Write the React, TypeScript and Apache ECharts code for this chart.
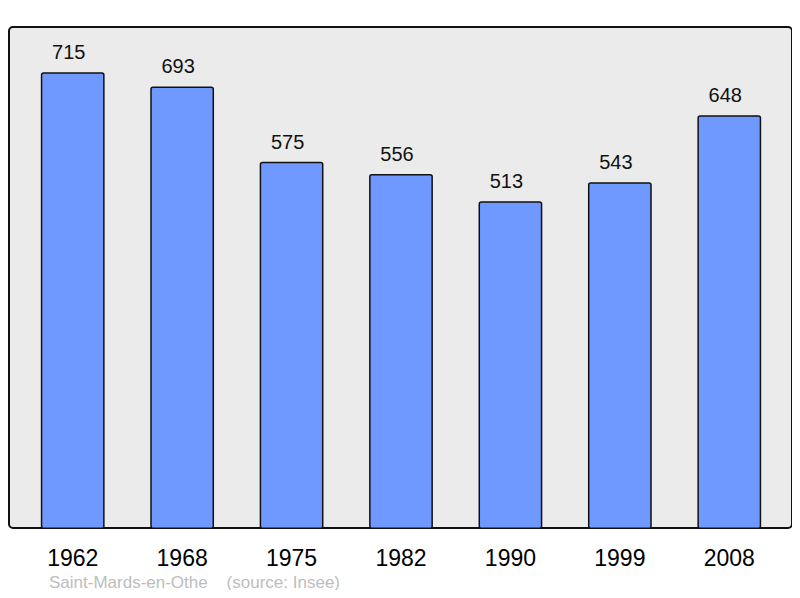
import React, { useEffect, useRef } from "react";
import * as echarts from "echarts";

const years = ["1962", "1968", "1975", "1982", "1990", "1999", "2008"];
const population = [715, 693, 575, 556, 513, 543, 648];
const footer = "Saint-Mards-en-Othe    (source: Insee)";

export default function App() {
  const ref = useRef<HTMLDivElement>(null);
  useEffect(() => {
    if (!ref.current) return;
    const chart = echarts.init(ref.current, undefined, { renderer: "svg" });
    chart.setOption({
      animation: false,
      graphic: [
        {
          type: "rect",
          z: -10,
          silent: true,
          shape: { x: 9, y: 27, width: 783, height: 501, r: 4 },
          style: { fill: "#ebebeb", stroke: "#111", lineWidth: 2 },
        },
        {
          type: "text",
          left: 49,
          top: 574,
          style: {
            text: footer,
            fill: "#bdbdbd",
            font: "17px 'Liberation Sans', Arial, sans-serif",
          },
        },
      ],
      grid: { left: 18, right: 16, top: 27, bottom: 69 },
      xAxis: {
        type: "category",
        data: years,
        axisLine: { show: false },
        axisTick: { show: false },
        axisLabel: {
          color: "#000",
          fontSize: 23,
          fontFamily: "'Liberation Sans', Arial, sans-serif",
          margin: 17,
        },
      },
      yAxis: {
        type: "value",
        min: 0,
        max: 786,
        show: false,
        splitLine: { show: false },
      },
      series: [
        {
          type: "bar",
          data: population,
          barWidth: "58.3%",
          itemStyle: {
            color: "#7099ff",
            borderColor: "#111",
            borderWidth: 1.5,
            borderRadius: 2,
          },
          label: {
            show: true,
            position: "top",
            distance: 10,
            offset: [-4, 0],
            color: "#111",
            fontSize: 20,
            fontFamily: "'Liberation Sans', Arial, sans-serif",
          },
        },
      ],
    });
    return () => chart.dispose();
  }, []);
  return <div ref={ref} style={{ width: 800, height: 598, margin: -8 }} />;
}
